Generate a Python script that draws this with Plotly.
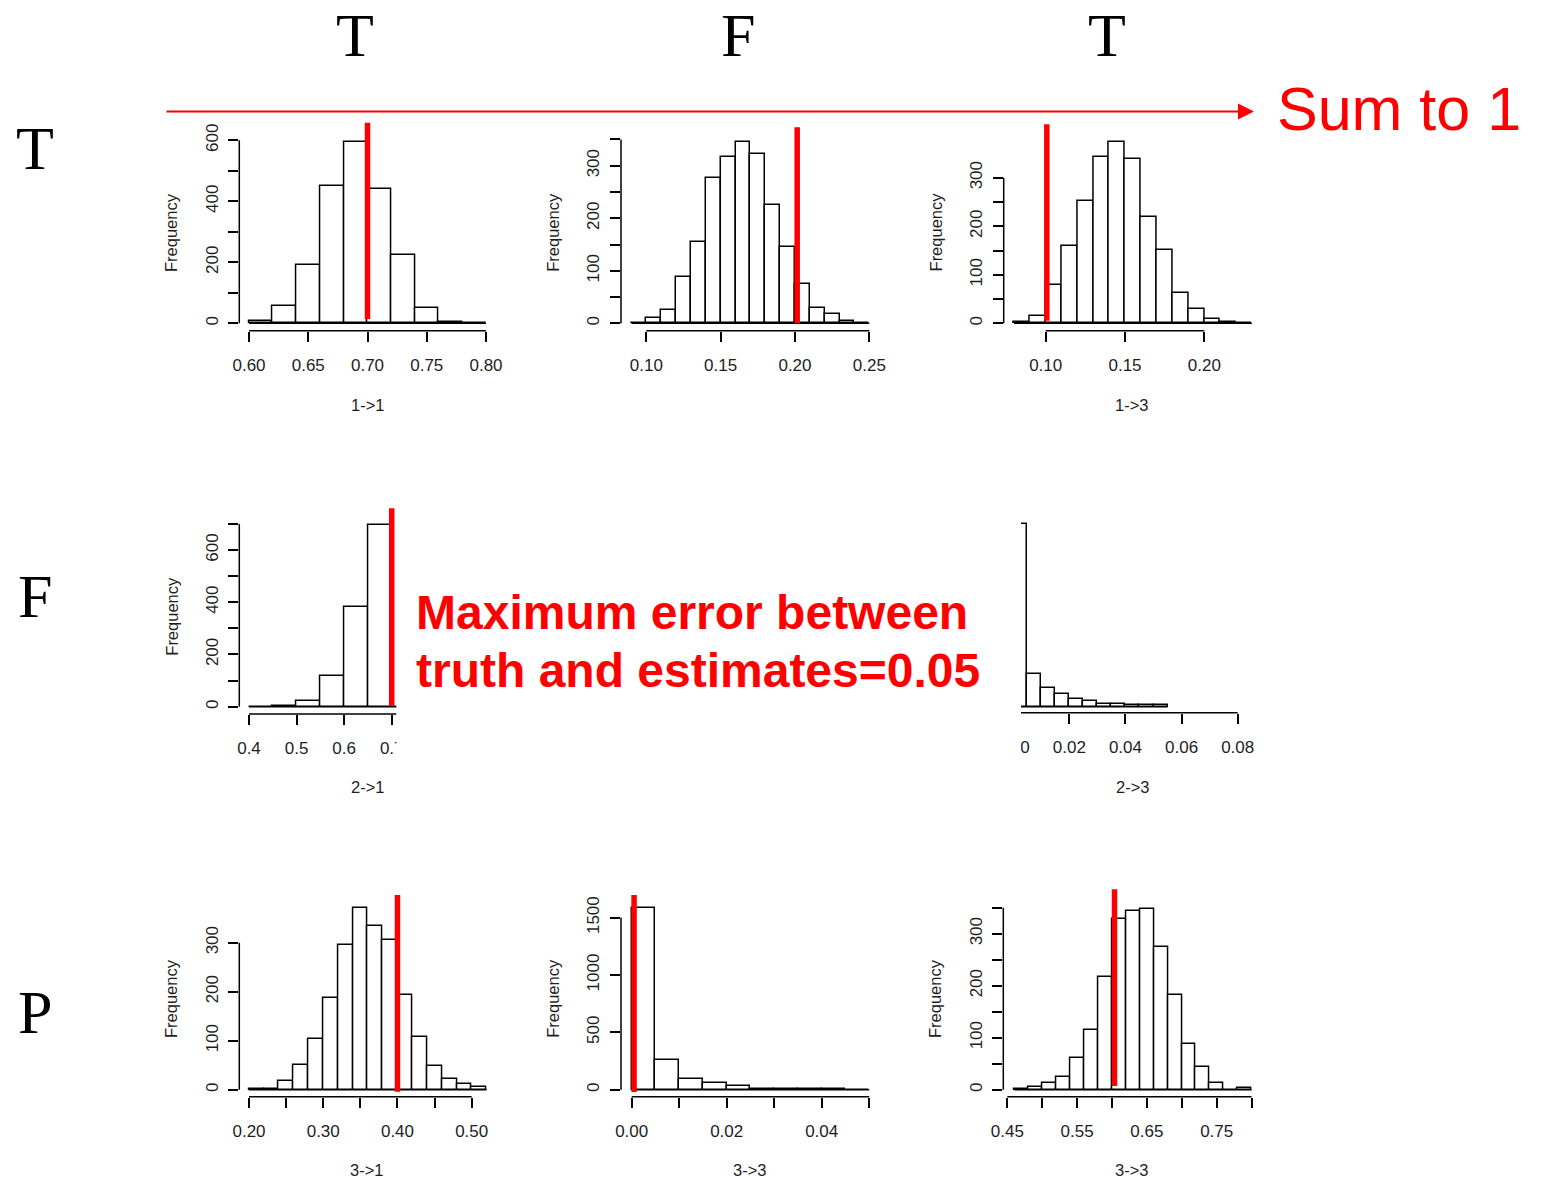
import plotly.graph_objects as go

W, H = 1541, 1181

# ---------------- data ----------------
x_titles = ["1->1", "", "1->3", "2->1", "2->3", "3->1", "3->3", "3->3"]

bin_starts = [0.60, 0.09, 0.08, 0.40, 0.0, 0.20, 0.0, 0.46]
bin_widths = [0.02, 0.01, 0.01, 0.05, 0.005, 0.02, 0.005, 0.02]

counts_1_1 = [8, 56, 192, 450, 594, 441, 223, 51, 4, 0]
counts_1_2 = [0, 10, 25, 89, 155, 276, 317, 345, 323, 226, 145, 74, 30, 18, 5, 0]
counts_1_3 = [3, 16, 78, 159, 253, 343, 374, 338, 220, 151, 62, 30, 8, 3, 0]
counts_2_1 = [0, 4, 23, 119, 380, 697, 0]
counts_2_3 = [1200, 215, 125, 81, 53, 37, 20, 18, 11, 11, 11]
counts_3_1 = [2, 2, 17, 50, 103, 188, 295, 371, 335, 305, 194, 107, 49, 22, 11, 5]
counts_3_2 = [1581, 259, 93, 58, 35, 9, 7, 6, 5, 0]
counts_3_3 = [2, 5, 13, 25, 61, 115, 216, 329, 344, 348, 274, 183, 87, 44, 13, 0, 3]
all_counts = [counts_1_1, counts_1_2, counts_1_3, counts_2_1,
              counts_2_3, counts_3_1, counts_3_2, counts_3_3]

true_values = [0.70, 0.2015, 0.1007, 0.70, None, 0.40, 0.0005, 0.6036]

x_tick_vals = [
    [0.60, 0.65, 0.70, 0.75, 0.80],
    [0.10, 0.15, 0.20, 0.25],
    [0.10, 0.15, 0.20],
    [0.4, 0.5, 0.6, 0.7, 0.8],
    [0.0, 0.02, 0.04, 0.06, 0.08],
    [0.20, 0.25, 0.30, 0.35, 0.40, 0.45, 0.50],
    [0.00, 0.01, 0.02, 0.03, 0.04, 0.05],
    [0.45, 0.50, 0.55, 0.60, 0.65, 0.70, 0.75, 0.80],
]
x_tick_text = [
    ["0.60", "0.65", "0.70", "0.75", "0.80"],
    ["0.10", "0.15", "0.20", "0.25"],
    ["0.10", "0.15", "0.20"],
    ["0.4", "0.5", "0.6", "0.7", "0.8"],
    ["0.00", "0.02", "0.04", "0.06", "0.08"],
    ["0.20", "", "0.30", "", "0.40", "", "0.50"],
    ["0.00", "", "0.02", "", "0.04", ""],
    ["0.45", "", "0.55", "", "0.65", "", "0.75", ""],
]
y_tick_vals = [
    [0, 100, 200, 300, 400, 500, 600],
    [0, 50, 100, 150, 200, 250, 300, 350],
    [0, 50, 100, 150, 200, 250, 300],
    [0, 100, 200, 300, 400, 500, 600, 700],
    [],
    [0, 100, 200, 300],
    [0, 500, 1000, 1500],
    [0, 50, 100, 150, 200, 250, 300, 350],
]
y_tick_text = [
    ["0", "", "200", "", "400", "", "600"],
    ["0", "", "100", "", "200", "", "300", ""],
    ["0", "", "100", "", "200", "", "300"],
    ["0", "", "200", "", "400", "", "600", ""],
    [],
    ["0", "100", "200", "300"],
    ["0", "500", "1000", "1500"],
    ["0", "", "100", "", "200", "", "300", ""],
]

col_labels = ["T", "F", "T"]
row_labels = ["T", "F", "P"]

# ---------------- layout of panels (pixel calibration) ----------------
# xcal: (v0, px0, v1, px1); xext: (left px, right px)
# ycal: (v0, py0, v1, py1); yext: (top px, bottom px)
panels = [
    dict(xcal=(0.60, 249.0, 0.80, 486.0), xext=(239.3, 496.0),
         ycal=(0, 323.3, 600, 140.3), yext=(134.0, 330.7), red=(122.7, 319.0), xt=(367.7, 404.5)),
    dict(xcal=(0.10, 646.3, 0.25, 869.3), xext=(621.0, 871.0),
         ycal=(0, 323.3, 300, 165.7), yext=(134.0, 330.7), red=(127.3, 323.3), xt=(746, 404.5)),
    dict(xcal=(0.10, 1045.7, 0.20, 1204.3), xext=(1003.7, 1253.0),
         ycal=(0, 323.3, 300, 177.7), yext=(134.0, 330.7), red=(124.3, 320.7), xt=(1131, 404.5)),
    dict(xcal=(0.4, 249.0, 0.7, 391.7), xext=(239.3, 396.5),
         ycal=(0, 706.7, 600, 550.0), yext=(518.0, 714.0), red=(508.3, 705.7), xt=(367, 787.5)),
    dict(xcal=(0.02, 1069.3, 0.08, 1237.7), xext=(1003.0, 1253.0),
         ycal=(0, 706.7, 1200, 524.4), yext=(518.0, 712.7), red=None, xt=(1132, 787.5)),
    dict(xcal=(0.20, 249.0, 0.50, 471.7), xext=(239.3, 488.0),
         ycal=(0, 1089.7, 300, 942.7), yext=(900.0, 1096.7), red=(895.0, 1091.7), xt=(366, 1169.5)),
    dict(xcal=(0.0, 631.7, 0.04, 821.7), xext=(621.0, 871.0),
         ycal=(0, 1089.7, 1500, 917.7), yext=(900.0, 1096.7), red=(895.0, 1092.0), xt=(749, 1169.5)),
    dict(xcal=(0.45, 1007.3, 0.75, 1216.7), xext=(1003.3, 1253.0),
         ycal=(0, 1089.7, 300, 933.7), yext=(900.0, 1096.7), red=(889.3, 1086.0), xt=(1131, 1169.5)),
]


def px_to_val(cal, p):
    v0, p0, v1, p1 = cal
    return v0 + (p - p0) * (v1 - v0) / (p1 - p0)


def paper_x(p):
    return p / W


def paper_y(p):
    return 1 - p / H


TICKFONT = dict(family="Liberation Sans, Arial", size=17, color="#1e1e1e")
TITLEFONT = dict(family="Liberation Sans, Arial", size=16.5, color="#1e1e1e")
RED = "#ff0000"

fig = go.Figure()
shapes = []
annotations = []
layout_axes = {}

for i, cfg in enumerate(panels):
    n = i + 1
    xa = "x" if n == 1 else f"x{n}"
    ya = "y" if n == 1 else f"y{n}"
    counts = all_counts[i]
    start, w = bin_starts[i], bin_widths[i]
    centers = [start + w * (k + 0.5) for k in range(len(counts))]
    edges_lo, edges_hi = start, start + w * len(counts)

    fig.add_trace(go.Bar(
        x=centers, y=counts, width=w, xaxis=xa, yaxis=ya,
        marker=dict(color="white", line=dict(color="black", width=1.5)),
        showlegend=False, hoverinfo="x+y"))
    # zero line along the histogram's breaks
    fig.add_trace(go.Scatter(
        x=[edges_lo, edges_hi], y=[0, 0], mode="lines", xaxis=xa, yaxis=ya,
        line=dict(color="black", width=1.5), showlegend=False, hoverinfo="skip"))

    xr = [px_to_val(cfg["xcal"], cfg["xext"][0]), px_to_val(cfg["xcal"], cfg["xext"][1])]
    yr = [px_to_val(cfg["ycal"], cfg["yext"][1]), px_to_val(cfg["ycal"], cfg["yext"][0])]

    layout_axes["xaxis" if n == 1 else f"xaxis{n}"] = dict(
        domain=[paper_x(cfg["xext"][0]), paper_x(cfg["xext"][1])],
        range=xr, anchor=ya, showgrid=False, zeroline=False, showline=False,
        automargin=False,
        tickmode="array", tickvals=x_tick_vals[i], ticktext=x_tick_text[i],
        ticks="outside", ticklen=10, tickwidth=1.5, tickcolor="black",
        tickangle=0, tickfont=TICKFONT, ticklabelstandoff=9, fixedrange=True)
    has_y = len(y_tick_vals[i]) > 0
    layout_axes["yaxis" if n == 1 else f"yaxis{n}"] = dict(
        domain=[paper_y(cfg["yext"][1]), paper_y(cfg["yext"][0])],
        range=yr, anchor=xa, showgrid=False, zeroline=False, showline=False,
        automargin=False,
        tickmode="array", tickvals=y_tick_vals[i], ticktext=y_tick_text[i],
        ticks="outside" if has_y else "", ticklen=10, tickwidth=1.5, tickcolor="black",
        showticklabels=has_y, tickangle=-90, tickfont=TICKFONT, ticklabelstandoff=4,
        fixedrange=True)

    # R-style axis lines spanning first to last tick
    xt = x_tick_vals[i]
    shapes.append(dict(type="line", xref=xa, yref=f"{ya} domain",
                       x0=xt[0], x1=xt[-1], y0=0, y1=0,
                       line=dict(color="black", width=1.5)))
    if has_y:
        yt = y_tick_vals[i]
        shapes.append(dict(type="line", xref=f"{xa} domain", yref=ya,
                           x0=0, x1=0, y0=yt[0], y1=yt[-1],
                           line=dict(color="black", width=1.5)))
        annotations.append(dict(
            text="Frequency", xref="paper", yref="paper",
            x=paper_x(cfg["xext"][0] - 67.6),
            y=paper_y((cfg["yext"][0] + cfg["yext"][1]) / 2),
            textangle=-90, showarrow=False, font=TITLEFONT,
            xanchor="center", yanchor="middle"))
    if x_titles[i]:
        annotations.append(dict(
            text=x_titles[i], xref="paper", yref="paper",
            x=paper_x(cfg["xt"][0]), y=paper_y(cfg["xt"][1]),
            showarrow=False, font=TITLEFONT, xanchor="center", yanchor="middle"))

# crop masks (the reference panels were cut off at these edges)
shapes.append(dict(type="rect", xref="paper", yref="paper", layer="above",
                   x0=paper_x(396.5), x1=paper_x(412), y0=paper_y(800), y1=paper_y(500),
                   fillcolor="white", line=dict(width=0)))
shapes.append(dict(type="rect", xref="paper", yref="paper", layer="above",
                   x0=paper_x(975), x1=paper_x(1021), y0=paper_y(800), y1=paper_y(505),
                   fillcolor="white", line=dict(width=0)))

# true-value red lines
for i, cfg in enumerate(panels):
    if true_values[i] is None:
        continue
    n = i + 1
    xa = "x" if n == 1 else f"x{n}"
    shapes.append(dict(type="line", xref=xa, yref="paper", layer="above",
                       x0=true_values[i], x1=true_values[i],
                       y0=paper_y(cfg["red"][1]), y1=paper_y(cfg["red"][0]),
                       line=dict(color=RED, width=5.5)))

# big row / column letters
BIG = dict(family="Liberation Serif, Times New Roman", size=62, color="black")
for lab, xc, yc in zip(col_labels, [355, 738, 1107], [35, 35, 35]):
    annotations.append(dict(text=lab, xref="paper", yref="paper", x=paper_x(xc), y=paper_y(yc),
                            showarrow=False, font=BIG, xanchor="center", yanchor="middle"))
for lab, yc in zip(row_labels, [148, 596, 1012]):
    annotations.append(dict(text=lab, xref="paper", yref="paper", x=paper_x(35), y=paper_y(yc),
                            showarrow=False, font=BIG, xanchor="center", yanchor="middle"))

# arrow + "Sum to 1"
annotations.append(dict(text="", xref="paper", yref="paper", x=paper_x(1254), y=paper_y(111.5),
                        ax=-(1254 - 165), ay=0, axref="pixel", ayref="pixel",
                        showarrow=True, arrowhead=2, arrowsize=1.6, arrowwidth=2, arrowcolor=RED))
annotations.append(dict(text="Sum to 1", xref="paper", yref="paper", x=paper_x(1275), y=paper_y(109),
                        showarrow=False, xanchor="left", yanchor="middle",
                        font=dict(family="Liberation Sans, Arial", size=61, color=RED)))

# Maximum error text
ERRFONT = dict(family="Liberation Sans, Arial", size=48, color=RED, weight="bold")
annotations.append(dict(text="<b>Maximum error between</b>", xref="paper", yref="paper",
                        x=paper_x(414), y=paper_y(612.5), showarrow=False,
                        xanchor="left", yanchor="middle", font=ERRFONT))
annotations.append(dict(text="<b>truth and estimates=0.05</b>", xref="paper", yref="paper",
                        x=paper_x(414), y=paper_y(670.5), showarrow=False,
                        xanchor="left", yanchor="middle", font=ERRFONT))

fig.update_layout(
    template="none",
    width=W, height=H, autosize=False,
    margin=dict(l=0, r=0, t=0, b=0, pad=0, autoexpand=False),
    paper_bgcolor="white", plot_bgcolor="white",
    showlegend=False, bargap=0,
    shapes=shapes, annotations=annotations,
    **layout_axes)

fig.write_html(
    "out.html",
    config={"displayModeBar": False},
    post_script="document.body.style.margin='0';document.body.style.padding='0';"
                "document.documentElement.style.overflow='hidden';",
)
